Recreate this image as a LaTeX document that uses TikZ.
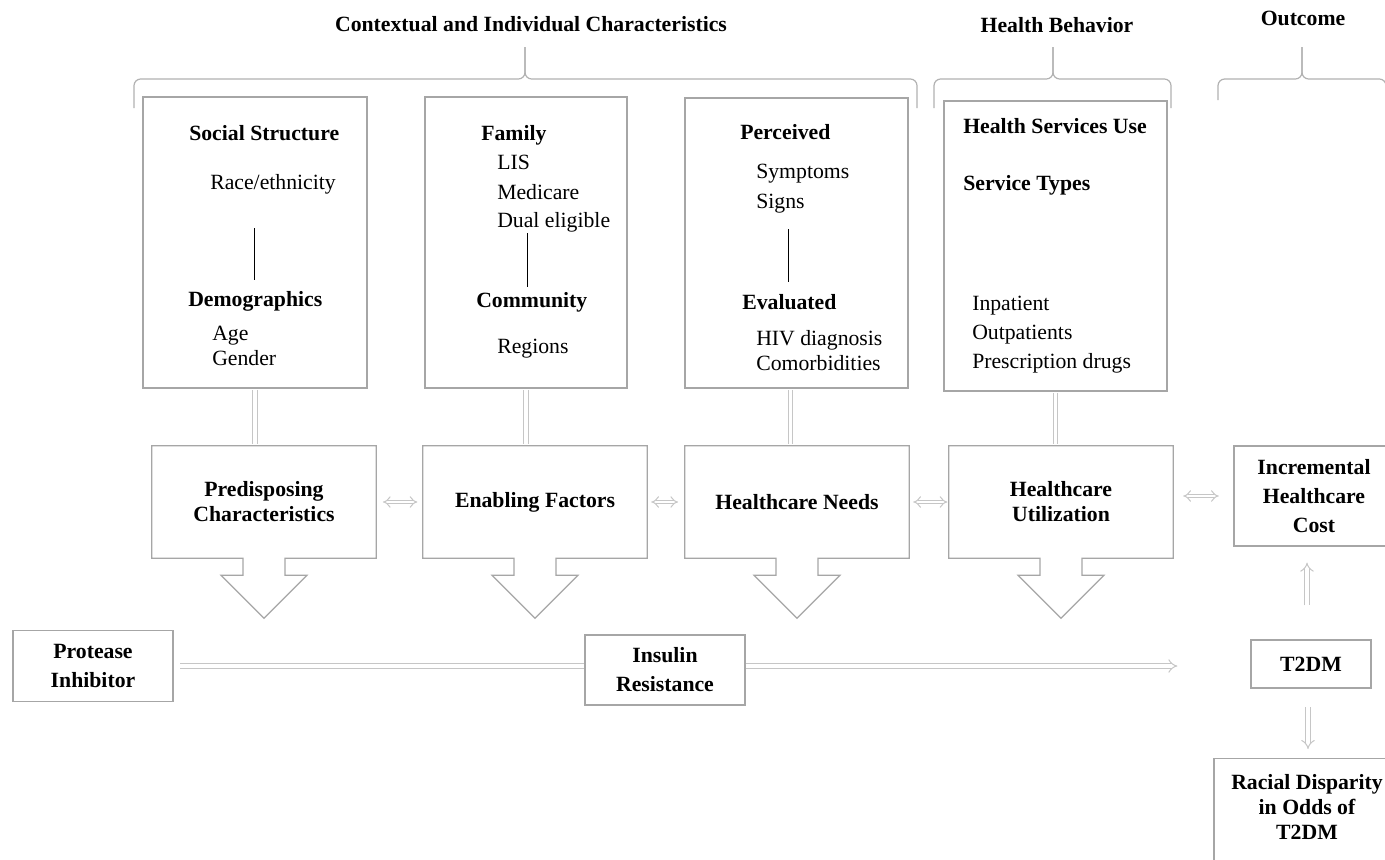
\documentclass[tikz,border=0pt]{standalone}
\usepackage{fontspec}
\setmainfont{Liberation Serif}
\usetikzlibrary{calc,arrows.meta}
\newcommand{\diagfont}{\fontsize{16.3}{18.75}\selectfont}
\tikzstyle{frame} = [draw=gray!70, line width=0.9pt, inner sep=0pt]
\tikzstyle{callout} = [inner sep=0pt, minimum width=168pt, minimum height=84pt, align=center, font=\diagfont\bfseries]
\tikzstyle{outbox} = [frame, align=center, font=\diagfont\bfseries]
\tikzstyle{heading} = [anchor=base west, inner sep=0pt, font=\diagfont\bfseries]
\tikzstyle{entry} = [anchor=base west, inner sep=0pt, font=\diagfont]
\tikzstyle{connector} = [line width=0.6pt]
\tikzstyle{stem} = [draw=gray!45, line width=0.75pt, double=white, double distance=2.8pt]
\tikzstyle{link} = [stem, double distance=2.2pt, Implies-Implies]
\tikzstyle{brace} = [draw=gray!60, line width=0.9pt, rounded corners=5pt]

\begin{document}
\begin{tikzpicture}[x=0.75pt, y=-0.75pt]
\useasboundingbox (0,0) rectangle (1385,860);
\fill[white] (0,0) rectangle (1385,860);
\clip (0,0) rectangle (1385,860);

% group headings and braces
\node[font=\diagfont\bfseries] (ctx) at (531,24) {Contextual and Individual Characteristics};
\node[font=\diagfont\bfseries] (beh) at (1057,25) {Health Behavior};
\node[font=\diagfont\bfseries] (out) at (1303,18) {Outcome};
\draw[brace] (134,108) -- (134,79) -- (525,79) -- (525,47);
\draw[brace] (917,108) -- (917,79) -- (525,79) -- (525,47);
\draw[brace] (934,108) -- (934,79) -- (1053,79) -- (1053,47);
\draw[brace] (1171,108) -- (1171,79) -- (1053,79) -- (1053,47);
\draw[brace] (1218,100) -- (1218,79) -- (1302,79) -- (1302,47);
\draw[brace] (1386,100) -- (1386,79) -- (1302,79) -- (1302,47);

% top boxes
\node[frame, minimum width=168pt, minimum height=218.25pt] (soc) at (255,242.5) {};
\node[frame, minimum width=151.5pt, minimum height=218.25pt] (fam) at (526,242.5) {};
\node[frame, minimum width=167.25pt, minimum height=217.5pt] (per) at (796.5,243) {};
\node[frame, minimum width=167.25pt, minimum height=217.5pt] (hsu) at (1055.5,246) {};

\node[heading] (ss) at (189,140) {Social Structure};
\node[entry] (race) at (210,189) {Race/ethnicity};
\node[heading] (demo) at (188,306) {Demographics};
\node[entry] (age) at (212,340) {Age};
\node[entry] (gen) at (212,365) {Gender};

\node[heading] (fly) at (481,140) {Family};
\node[entry] (lis) at (497,169) {LIS};
\node[entry] (med) at (497,199) {Medicare};
\node[entry] (dual) at (497,227) {Dual eligible};
\node[heading] (com) at (476,307) {Community};
\node[entry] (reg) at (497,353) {Regions};

\node[heading] (prc) at (740,139) {Perceived};
\node[entry] (sym) at (756,178) {Symptoms};
\node[entry] (sig) at (756,208) {Signs};
\node[heading] (eva) at (742,309) {Evaluated};
\node[entry] (hiv) at (756,345) {HIV diagnosis};
\node[entry] (cmb) at (756,370) {Comorbidities};

\node[heading] (use) at (963,133) {Health Services Use};
\node[heading] (typ) at (963,190) {Service Types};
\node[entry] (inp) at (972,310) {Inpatient};
\node[entry] (outp) at (972,339) {Outpatients};
\node[entry] (rx) at (972,368) {Prescription drugs};

\coordinate (s1) at (254,228);
\coordinate (s2) at (254,280);
\coordinate (f1) at (527,233);
\coordinate (f2) at (527,287);
\coordinate (p1) at (788,229);
\coordinate (p2) at (788,282);
\draw[connector] (s1) -- (s2);
\draw[connector] (f1) -- (f2);
\draw[connector] (p1) -- (p2);

% model components
\node[callout] (pre) at (264,502) {Predisposing\\Characteristics};
\node[callout] (ena) at (535,502) {Enabling Factors};
\node[callout] (need) at (797,502) {Healthcare Needs};
\node[callout] (util) at (1061,502) {Healthcare\\Utilization};
\foreach \n in {pre,ena,need,util}
  \draw[frame] ($(\n.south)+(21,0)$) -- (\n.south east) -- (\n.north east) -- (\n.north west)
    -- (\n.south west) -- ($(\n.south)+(-21,0)$) -- ++(0,17) -- ++(-22,0)
    -- ($(\n.south)+(0,60)$) -- ($(\n.south)+(43,17)$) -- ++(-22,0) -- cycle;

\draw[stem, shorten <=1pt, shorten >=1pt] (soc.south) -- (soc.south |- pre.north);
\draw[stem, shorten <=1pt, shorten >=1pt] (fam.south) -- (fam.south |- ena.north);
\draw[stem, shorten <=1pt, shorten >=1pt] ([xshift=-4.5pt]per.south) -- ([xshift=-4.5pt]per.south |- need.north);
\draw[stem, shorten <=1pt, shorten >=1pt] (hsu.south) -- (hsu.south |- util.north);

% outcomes
\node[outbox, minimum width=120pt, minimum height=75pt] (inc) at (1314,496) {Incremental\\[3pt]Healthcare\\[3pt]Cost};
\node[outbox, minimum width=90pt, minimum height=36pt] (t2dm) at (1311,664) {T2DM};
\node[outbox, anchor=north, minimum width=139.5pt, inner ysep=12pt] (rac) at (1307,758) {Racial Disparity\\in Odds of\\T2DM\rule[-30pt]{0pt}{0pt}};
\node[outbox, minimum width=120pt, minimum height=53.25pt] (pro) at (93,666) {Protease\\[3.5pt]Inhibitor};
\node[outbox, minimum width=120pt, minimum height=52.5pt] (ins) at (665,670) {Insulin\\[3pt]Resistance};

\draw[link, shorten <=5pt, shorten >=4pt] (pre.east) -- (ena.west);
\draw[link, shorten <=3pt, shorten >=5pt] (ena.east) -- (need.west);
\draw[link, shorten <=3pt, shorten >=1pt] (need.east) -- (util.west);
\draw[link, shorten <=7.5pt, shorten >=11pt] (util.east |- inc.west) -- (inc.west);

\draw[stem, shorten <=5pt] (pro.east) -- (pro.east -| ins.west);
\draw[stem, -Implies, shorten >=54.75pt] (pro.east -| ins.east) -- (pro.east -| t2dm.west);
\draw[stem, -Implies, shorten <=25.5pt, shorten >=12pt] ([xshift=-3pt]t2dm.north) -- ([xshift=-3pt]t2dm.north |- inc.south);
\draw[stem, -Implies, shorten <=14pt, shorten >=6.75pt] ([xshift=-2.25pt]t2dm.south) -- ([xshift=-2.25pt]t2dm.south |- rac.north);
\end{tikzpicture}
\end{document}
